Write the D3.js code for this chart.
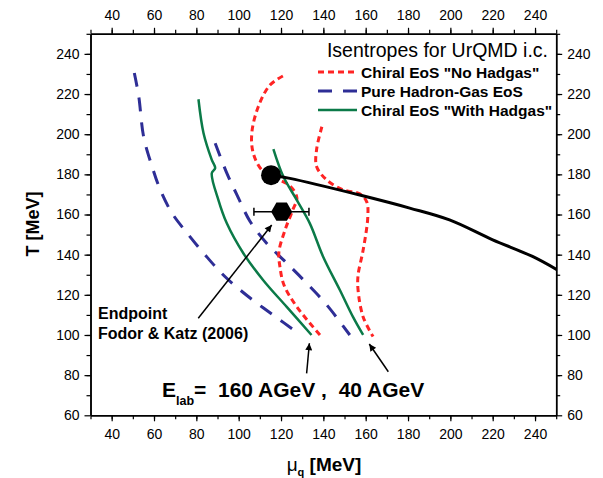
<!DOCTYPE html>
<html>
<head>
<meta charset="utf-8">
<script src="https://cdn.jsdelivr.net/npm/d3@7"></script>
<style>
body{margin:0;background:#fff;}
text{font-family:Arial,"Liberation Sans",sans-serif;fill:#000;}
</style>
</head>
<body>
<svg id="chart" width="603" height="478"></svg>
<script>
// isentropes, [mu_q, T] in MeV
const hadGas160 = [[50.7,230.5],[52.8,218.8],[55.1,198.7],[59.1,183.9],[63.0,172.2],[68.5,160.7],[75.6,150.8],[84.2,139.8],[93.6,129.0],[105.4,118.4],[116.2,110.0],[128.0,101.0]];
const hadGas40 = [[88.9,195.5],[94.4,180.6],[99.9,168.2],[105.4,156.5],[113.2,145.7],[122.7,135.8],[132.1,125.8],[141.5,115.1],[152.5,100.0]];
const withHad160 = [[81.0,217.4],[83.4,200.5],[87.3,187.2],[88.9,183.1],[87.3,180.6],[90.4,167.3],[94.4,155.6],[102.2,140.7],[111.6,127.3],[122.7,114.0],[134.4,100.0]];
const withHad40 = [[116.4,192.6],[121.1,178.9],[127.4,167.3],[133.6,155.6],[139.9,139.0],[147.8,122.4],[154.0,109.0],[158.8,100.0]];
const noHad160 = [[120.9,229.0],[114.8,224.5],[109.3,213.8],[106.2,200.5],[106.9,190.5],[110.9,182.2],[117.2,178.2],[124.2,174.3],[127.5,168.3],[125.6,162.4],[121.9,152.3],[119.0,141.3],[119.5,133.9],[121.4,124.9],[127.5,114.0],[138.4,100.0]];
const noHad40 = [[139.3,203.7],[136.8,192.3],[136.8,183.9],[141.5,177.3],[149.3,172.3],[157.2,170.3],[160.5,166.3],[161.0,158.9],[158.8,142.3],[156.4,129.8],[156.4,122.4],[158.8,109.0],[163.5,99.2]];
// phase transition line starting at the critical point
const transition = [[115.3,179.6],[124.2,178.0],[157.2,169.7],[180.8,163.2],[199.6,157.3],[220.0,147.4],[238.8,139.1],[252,131.5]];
const critPoint = [115.3, 179.6];
const lattice = {mu: 120.3, T: 161.4, muLo: 107.2, muHi: 133.2};

const xMajor = d3.range(40, 241, 20);
const xMinor = d3.range(30, 251, 10);
const yMajor = d3.range(60, 241, 20);
const yMinor = d3.range(70, 251, 10);

const legendItems = [
    {label: 'Chiral EoS "No Hadgas"', cls: "nohad"},
    {label: "Pure Hadron-Gas EoS", cls: "hadgas"},
    {label: 'Chiral EoS "With Hadgas"', cls: "withhad"}
];

const styles = {
    nohad:   {stroke: "#ff2424", width: 3, dash: "6,4"},
    hadgas:  {stroke: "#2e2e96", width: 3, dash: "14,11"},
    withhad: {stroke: "#0b7a48", width: 2.5, dash: null}
};

const svg = d3.select("#chart");
const box = {left: 90.5, right: 556.2, top: 33.8, bottom: 415.3};

const x = d3.scaleLinear().domain([30, 250]).range([box.left, box.right]);
const y = d3.scaleLinear().domain([60, 250]).range([box.bottom, box.top]);

let defs = svg.append("defs");
defs.append("clipPath").attr("id", "plotclip")
    .append("rect").attr("x", box.left).attr("y", box.top)
    .attr("width", box.right - box.left).attr("height", box.bottom - box.top);

defs.append("marker")
    .attr("id", "arrow").attr("viewBox", "0 0 10 10")
    .attr("refX", 10).attr("refY", 5)
    .attr("markerWidth", 9).attr("markerHeight", 7)
    .attr("markerUnits", "userSpaceOnUse")
    .attr("orient", "auto")
    .append("path").attr("d", "M0,0L10,5L0,10Z").attr("fill", "#000");

// axes, major and minor ticks on all four sides
function drawAxis(axisFn, scale, transform, major, minor, pad){
    let g = svg.append("g").attr("transform", transform);
    g.call(axisFn(scale).tickValues(minor).tickSize(4).tickFormat("").tickSizeOuter(0));
    g.append("g").call(axisFn(scale).tickValues(major).tickSize(6).tickPadding(pad)
        .tickFormat(d3.format("d")).tickSizeOuter(0));
    g.selectAll("path.domain").attr("stroke-width", 1.5);
    g.selectAll("line").attr("stroke-width", 1.2);
    g.selectAll("text").attr("font-size", 14).attr("font-family", "Arial, Liberation Sans, sans-serif").attr("fill", "#000");
    return g;
}
drawAxis(d3.axisBottom, x, `translate(0,${box.bottom})`, xMajor, xMinor, 7.5);
drawAxis(d3.axisTop, x, `translate(0,${box.top})`, xMajor, xMinor, 7.5);
drawAxis(d3.axisLeft, y, `translate(${box.left},0)`, yMajor, yMinor, 5);
drawAxis(d3.axisRight, y, `translate(${box.right},0)`, yMajor, yMinor, 5);

// curves
let line = d3.line().x(d => x(d[0])).y(d => y(d[1])).curve(d3.curveCatmullRom.alpha(0.5));
let plot = svg.append("g").attr("clip-path", "url(#plotclip)");

const curves = [
    {data: hadGas160, cls: "hadgas"}, {data: hadGas40, cls: "hadgas"},
    {data: noHad160, cls: "nohad"}, {data: noHad40, cls: "nohad"},
    {data: withHad160, cls: "withhad"}, {data: withHad40, cls: "withhad"}
];
plot.selectAll("path.iso").data(curves).enter().append("path")
    .attr("class", "iso")
    .attr("d", d => line(d.data))
    .attr("fill", "none")
    .attr("stroke", d => styles[d.cls].stroke)
    .attr("stroke-width", d => styles[d.cls].width)
    .attr("stroke-dasharray", d => styles[d.cls].dash);

plot.append("path")
    .attr("d", line(transition))
    .attr("fill", "none").attr("stroke", "#000").attr("stroke-width", 3);

plot.append("circle")
    .attr("cx", x(critPoint[0])).attr("cy", y(critPoint[1])).attr("r", 10).attr("fill", "#000");

// lattice endpoint with error bar
let lg = plot.append("g");
lg.append("line")
    .attr("x1", x(lattice.muLo)).attr("x2", x(lattice.muHi))
    .attr("y1", y(lattice.T)).attr("y2", y(lattice.T))
    .attr("stroke", "#000").attr("stroke-width", 1.5);
lg.selectAll("line.cap").data([lattice.muLo, lattice.muHi]).enter().append("line")
    .attr("class", "cap")
    .attr("x1", d => x(d)).attr("x2", d => x(d))
    .attr("y1", y(lattice.T) - 4).attr("y2", y(lattice.T) + 4)
    .attr("stroke", "#000").attr("stroke-width", 1.5);
let hexR = 10.5;
lg.append("polygon")
    .attr("points", d3.range(6).map(i => {
        let a = i * Math.PI / 3;
        return [x(lattice.mu) + hexR * Math.cos(a), y(lattice.T) + hexR * Math.sin(a)].join(",");
    }).join(" "))
    .attr("fill", "#000");

// legend
svg.append("text")
    .attr("x", 548).attr("y", 57)
    .attr("text-anchor", "end")
    .attr("font-size", 19.5)
    .text("Isentropes for UrQMD i.c.");

let leg = svg.append("g");
legendItems.forEach((d, i) => {
    let yy = 72 + i * 19;
    leg.append("line")
        .attr("x1", 318).attr("x2", 357).attr("y1", yy).attr("y2", yy)
        .attr("stroke", styles[d.cls].stroke)
        .attr("stroke-width", styles[d.cls].width)
        .attr("stroke-dasharray", styles[d.cls].dash);
    leg.append("text")
        .attr("x", 361).attr("y", yy + 5.5)
        .attr("font-size", 15.5).attr("font-weight", "bold")
        .text(d.label);
});

// annotations
svg.append("text").attr("x", 98).attr("y", 319)
    .attr("font-size", 16).attr("font-weight", "bold").text("Endpoint");
svg.append("text").attr("x", 98).attr("y", 339)
    .attr("font-size", 16).attr("font-weight", "bold").text("Fodor & Katz (2006)");

const arrows = [
    [[80.9,108.3],[115.6,154.8]],
    [[132.1,80.9],[133.4,95.9]],
    [[170.7,81.7],[161.7,95.5]]
];
svg.selectAll("line.arrow").data(arrows).enter().append("line")
    .attr("class", "arrow")
    .attr("x1", d => x(d[0][0])).attr("y1", d => y(d[0][1]))
    .attr("x2", d => x(d[1][0])).attr("y2", d => y(d[1][1]))
    .attr("stroke", "#000").attr("stroke-width", 1.5)
    .attr("marker-end", "url(#arrow)");

let et = svg.append("text").attr("x", 162).attr("y", 397)
    .attr("font-size", 21).attr("font-weight", "bold")
    .style("white-space", "pre");
et.append("tspan").text("E");
et.append("tspan").attr("font-size", 12.5).attr("dy", 8).text("lab");
et.append("tspan").attr("dy", -8).text("=  160 AGeV ,  40 AGeV");

// axis titles
let xt = svg.append("text").attr("x", 324).attr("y", 471)
    .attr("text-anchor", "middle").attr("font-size", 19).attr("font-weight", "bold");
xt.append("tspan").attr("font-weight", "normal").text("μ");
xt.append("tspan").attr("font-size", 11).attr("dy", 5).text("q");
xt.append("tspan").attr("dy", -5).text(" [MeV]");

svg.append("text")
    .attr("transform", "translate(39,224) rotate(-90)")
    .attr("text-anchor", "middle").attr("font-size", 18).attr("font-weight", "bold")
    .text("T [MeV]");
</script>
</body>
</html>
